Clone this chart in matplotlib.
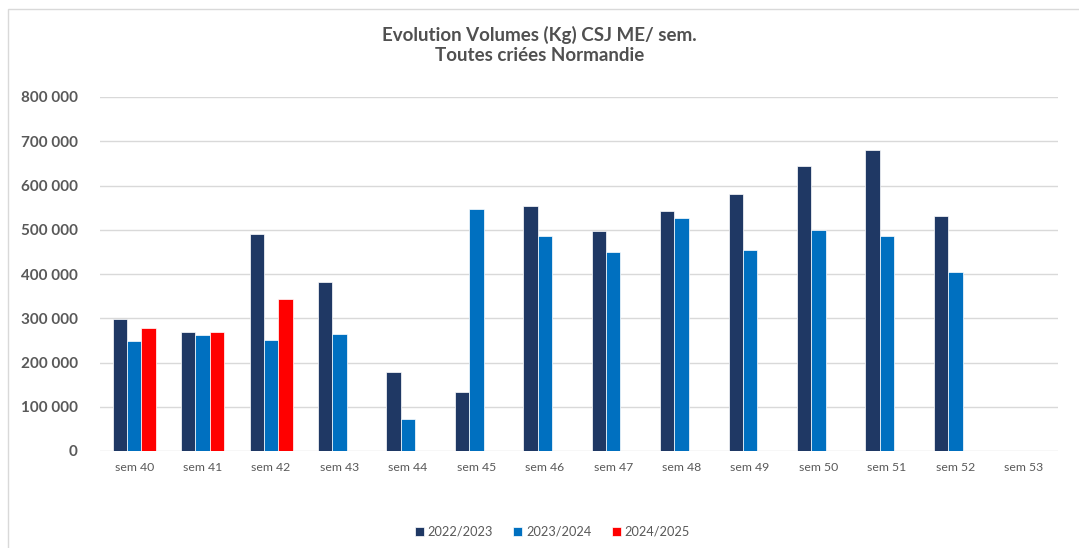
import numpy as np
import matplotlib.pyplot as plt
from matplotlib.patches import Rectangle

# weekly volumes (kg)
weeks = ["sem 40", "sem 41", "sem 42", "sem 43", "sem 44", "sem 45", "sem 46",
         "sem 47", "sem 48", "sem 49", "sem 50", "sem 51", "sem 52", "sem 53"]
vol_2022_2023 = [299000, 270000, 491000, 381000, 178000, 134000, 553000,
                 497000, 542000, 580000, 644000, 681000, 532000, np.nan]
vol_2023_2024 = [249000, 263000, 251000, 264000, 72000, 548000, 487000,
                 450000, 527000, 454000, 499000, 487000, 405000, np.nan]
vol_2024_2025 = [278000, 268000, 343000] + [np.nan] * 11

series = [("2022/2023", vol_2022_2023, "#1F3864"),
          ("2023/2024", vol_2023_2024, "#0070C0"),
          ("2024/2025", vol_2024_2025, "#FF0000")]

plt.rcParams['font.family'] = ['Lato', 'DejaVu Sans']

fig = plt.figure(figsize=(10.79, 5.48), dpi=100)
ax = fig.add_axes([100 / 1079, 1 - 451 / 548, 958 / 1079, 354 / 548])

x = np.arange(len(weeks))
w = 0.21
for i, (name, vals, col) in enumerate(series):
    ax.bar(x + (i - 1) * w, vals, width=w, color=col, label=name,
           edgecolor="white", linewidth=0.5, zorder=3)

ax.set_xlim(-0.5, len(weeks) - 0.5)
ax.set_ylim(0, 800000)
ax.set_yticks(np.arange(0, 800001, 100000))
ax.set_yticklabels([f"{int(v):,}".replace(",", " ") for v in ax.get_yticks()],
                   fontsize=11, color="#595959", fontweight="bold")
ax.set_xticks(x)
ax.set_xticklabels(weeks, fontsize=8.8, color="#595959")
ax.tick_params(length=0)
ax.tick_params(axis="y", pad=16)
ax.tick_params(axis="x", pad=8)
ax.grid(axis="y", color="#D9D9D9", linewidth=1, zorder=0)
for s in ax.spines.values():
    s.set_visible(False)

fig.text(0.5, 1 - 45 / 548, "Evolution Volumes (Kg) CSJ ME/ sem.\nToutes criées Normandie",
         ha="center", va="center", fontsize=13.5, fontweight="bold",
         color="#505050", linespacing=1.25)

fig.legend(loc="center", bbox_to_anchor=(0.512, 1 - 532 / 548), ncol=3, frameon=False,
           fontsize=9.2, handlelength=0.7, handleheight=0.7, handletextpad=0.3,
           columnspacing=1.6, labelcolor="#595959")

# light frame around the chart
fig.patches.append(Rectangle((8 / 1079, -0.01), 1.1, 1 - 9 / 548 + 0.01,
                             transform=fig.transFigure, fill=False,
                             edgecolor="#D9D9D9", linewidth=1))

fig.savefig("out.png", dpi=100)
